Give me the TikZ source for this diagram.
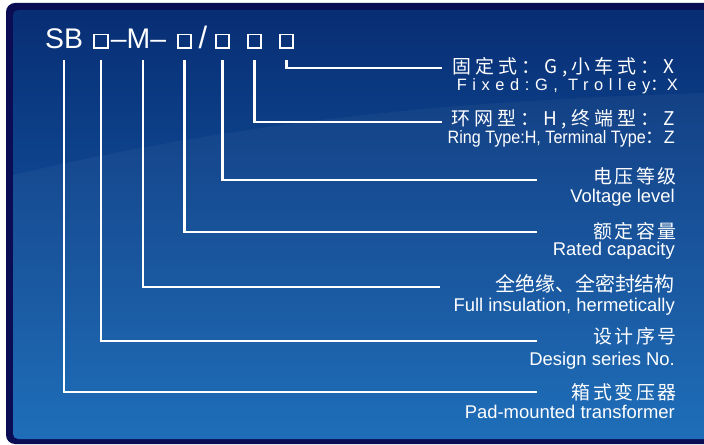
\documentclass[tikz,border=0pt]{standalone}
\usepackage{fontspec}
\setmainfont{Liberation Sans}
\newfontfamily\cjk{Noto Sans CJK SC}
\usepackage{xcolor}
\usetikzlibrary{positioning,calc}

\definecolor{navyedge}{RGB}{10,12,84}
\definecolor{bgtop}{RGB}{8,46,116}
\definecolor{bgmid}{RGB}{12,74,152}
\definecolor{bgbottom}{RGB}{22,104,182}

\begin{document}
\begin{tikzpicture}[
        x=1bp, y=-1bp,
        % 标题样式
        titlepart/.style={text=white, inner sep=0pt, anchor=base, font=\fontsize{28.5}{28.5}\selectfont},
        slot/.style={draw=white, line width=1.8bp, minimum size=13.5bp, inner sep=0pt, anchor=south},
        % 说明文字样式
        cnlabel/.style={text=white, inner sep=0pt, anchor=base east, text height=16bp, text depth=1.5bp,
            font={\cjk\addfontfeature{LetterSpace=14}\fontsize{19}{19}\selectfont}},
        cnwide/.style={cnlabel, font={\cjk\fontsize{20}{20}\selectfont}},
        enlabel/.style={text=white, inner sep=0pt, anchor=base east, text height=13bp, text depth=4bp,
            font=\fontsize{18.5}{18.5}\selectfont},
        % 连线样式
        lead/.style={draw=white, line width=2.6bp}
    ]

    % 背景
    \useasboundingbox (0,0) rectangle (704,445);
    \fill[navyedge, rounded corners=9bp] (6,3) rectangle (740,444);
    \shade[top color=bgtop, middle color=bgmid, bottom color=bgbottom, rounded corners=5bp] (13,10) rectangle (740,439);
    \begin{scope}
        \clip[rounded corners=5bp] (13,10) rectangle (740,439);
        \fill[white, opacity=0.04] (13,175) .. controls (250,120) and (450,100) .. (740,92) -- (740,439) -- (13,439) -- cycle;
    \end{scope}

    % 型号
    \node[titlepart] (sb) at (64,49) {SB};
    \node[slot] (b1) at (101,49) {};
    \node[titlepart] (m) at (138.5,49) {–M–};
    \node[slot] (b2) at (184.5,49) {};
    \node[titlepart, font=\fontsize{31}{31}\selectfont] (sl) at (203,49) {/};
    \node[slot] (b3) at (222.5,49) {};
    \node[slot] (b4) at (254.5,49) {};
    \node[slot] (b5) at (286.5,49) {};

    % 说明
    \node[cnlabel, font={\cjk\addfontfeature{LetterSpace=22}\fontsize{19}{19}\selectfont}] (cn1) at (675,74) {固定式：G,小车式：X};
    \node[enlabel, font={\fontsize{16.5}{16.5}\selectfont\addfontfeature{LetterSpace=34}}] (en1) at (678,91) {Fixed:G, Trolley{\cjk ：}X};
    \node[cnlabel, font={\cjk\addfontfeature{LetterSpace=22}\fontsize{19}{19}\selectfont}] (cn2) at (675,126) {环网型：H,终端型：Z};
    \node[enlabel, font=\fontsize{18}{18}\selectfont] (en2) at (675,144) {{\addfontfeature{FakeStretch=0.9}Ring Type:H, Terminal Type}{\cjk ：}Z};
    \node[cnlabel] (cn3) at (677,184) {电压等级};
    \node[enlabel] (en3) at (675,203) {Voltage level};
    \node[cnlabel] (cn4) at (677,239) {额定容量};
    \node[enlabel] (en4) at (675,256) {Rated capacity};
    \node[cnwide] (cn5) at (675,292) {全绝缘、全密封结构};
    \node[enlabel] (en5) at (675,312) {Full insulation, hermetically};
    \node[cnlabel] (cn6) at (677,344) {设计序号};
    \node[enlabel] (en6) at (675,365) {Design series No.};
    \node[cnlabel] (cn7) at (677,399) {箱式变压器};
    \node[enlabel] (en7) at (675,418) {Pad-mounted transformer};

    % 引线
    \coordinate (top) at (0,60);
    \coordinate (e1) at (442,68);
    \coordinate (e2) at (442,122);
    \coordinate (e3) at (537,180);
    \coordinate (e4) at (537,232);
    \coordinate (e5) at (440,287);
    \coordinate (e6) at (537,341);
    \coordinate (e7) at (537,392);
    \draw[lead] (b5 |- top) |- (e1);
    \draw[lead] (b4 |- top) |- (e2);
    \draw[lead] (b3 |- top) |- (e3);
    \draw[lead] (b2 |- top) |- (e4);
    \draw[lead] ($(m |- top)+(4.5,0)$) |- (e5);
    \draw[lead] (b1 |- top) |- (e6);
    \draw[lead] (sb |- top) |- (e7);

\end{tikzpicture}
\end{document}
